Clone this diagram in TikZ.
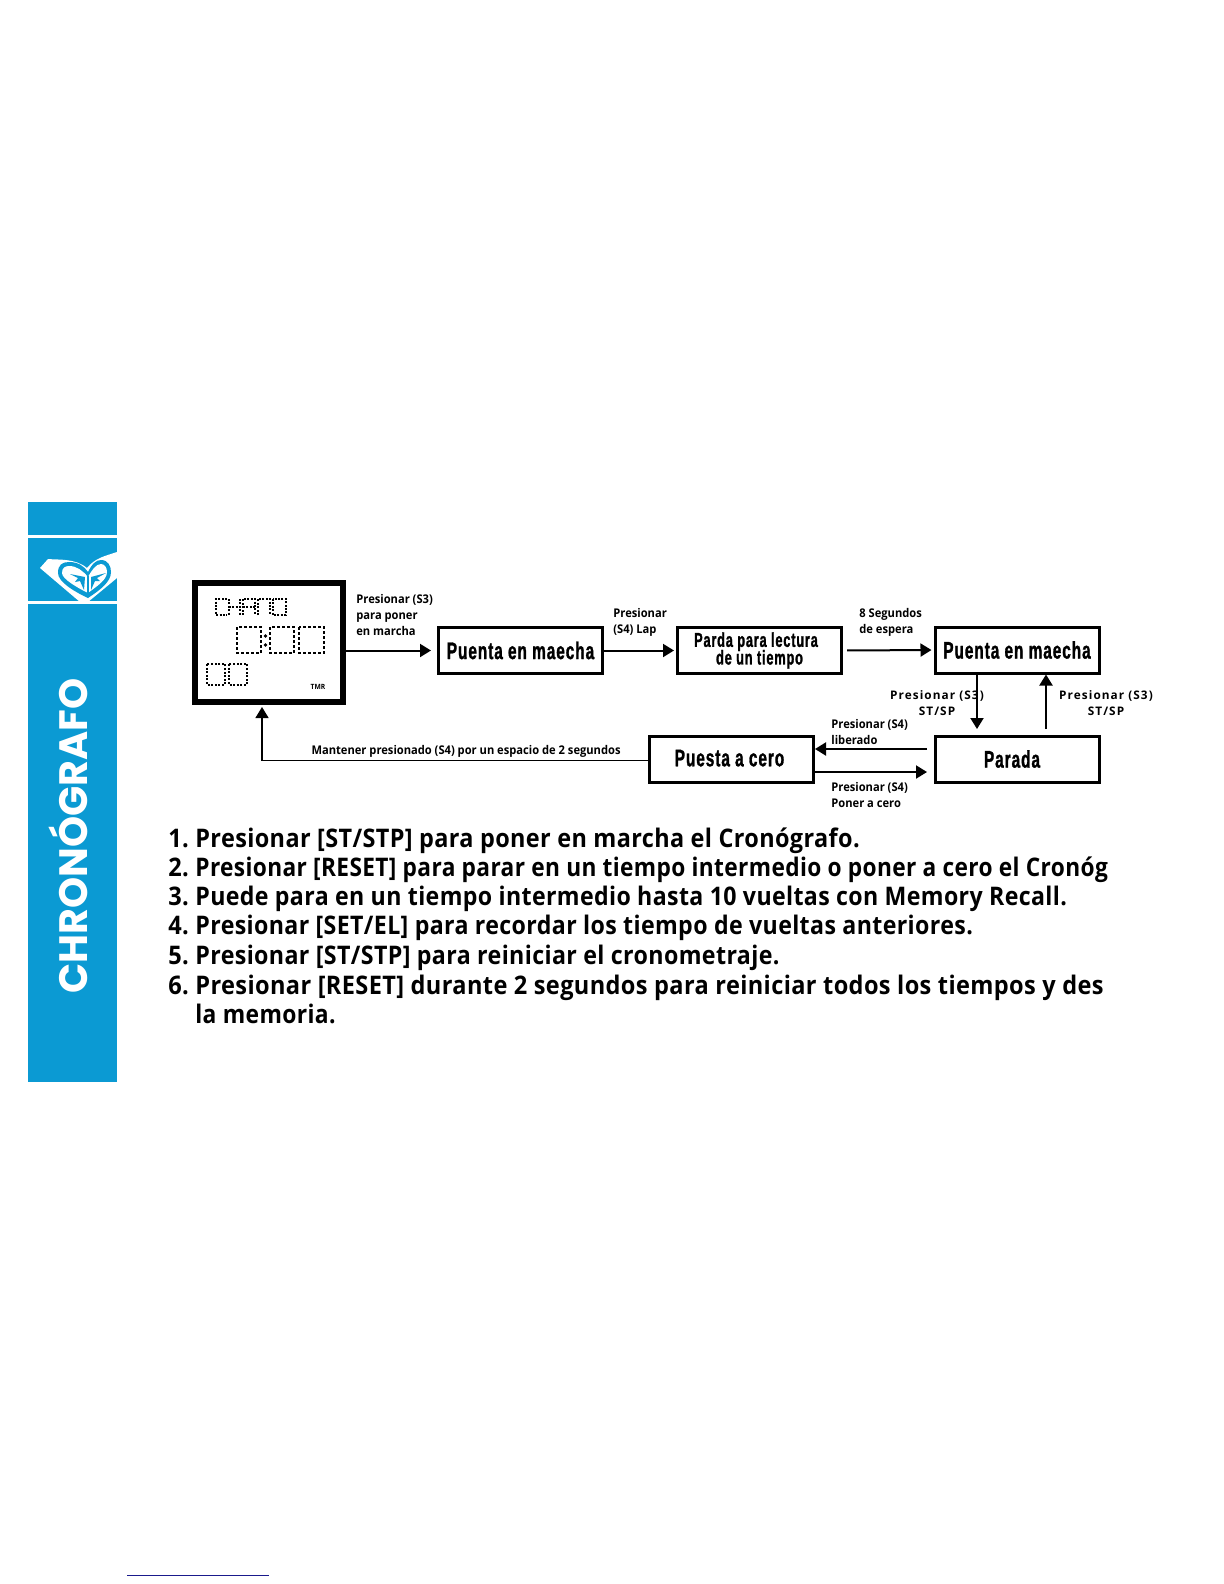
\documentclass[tikz,border=0pt]{standalone}
\usepackage{fontspec}
\usetikzlibrary{arrows.meta}
\newfontfamily\bodyfont[FakeStretch=0.92,LetterSpace=1.5]{Open Sans}
\newfontfamily\smallfont[FakeStretch=0.93]{Open Sans}
\newfontfamily\spreadfont[LetterSpace=9]{Open Sans}
\newfontfamily\titlefont{Poppins}
\newfontfamily\boxfont[FakeStretch=0.64,LetterSpace=4,FakeBold=1.2]{Liberation Sans}
\definecolor{bandblue}{HTML}{0B9AD3}
\definecolor{linkblue}{HTML}{1A1A8C}
\tikzset{
  modebox/.style={draw, line width=1.5bp, minimum width=82bp, minimum height=23bp, inner sep=0pt, align=center},
  flecha/.style={line width=1bp, -{Triangle[length=5.5bp,width=6.5bp]}},
  smalllbl/.style={inner sep=0pt, align=left, anchor=west, font=\smallfont\bfseries\fontsize{6bp}{8bp}\selectfont},
  spreadlbl/.style={inner sep=0pt, align=center, font=\spreadfont\bfseries\fontsize{5.9bp}{8bp}\selectfont},
  steplbl/.style={inner sep=0pt, anchor=base west, font=\bodyfont\bfseries\fontsize{12.8bp}{14bp}\selectfont},
  lcdthin/.style={line width=0.8bp, dash pattern=on 1bp off 0.7bp},
  lcdthick/.style={line width=1.4bp, dash pattern=on 1.5bp off 1bp},
  lcdmid/.style={line width=1bp, dash pattern=on 1bp off 0.8bp}
}
\begin{document}
\begin{tikzpicture}[x=0.5bp,y=-0.5bp]
\useasboundingbox (0,0) rectangle (1224,1584);
\fill[bandblue] (28,502) rectangle (117,1082);
\fill[white] (28,535) rectangle (117,538);
\fill[white] (28,601) rectangle (117,604);
\fill[white] (40,568) -- (48,559) .. controls (58,560) and (75,558) .. (87,568) .. controls (95,558) and (105,556) .. (117,552) -- (117,578) -- (88,602) -- (80,602) -- cycle;
\fill[bandblue] (88,598) .. controls (75,592) and (58,582) .. (58,573) .. controls (58,565) and (62,562) .. (69,562) .. controls (78,562) and (84,566) .. (88,572) .. controls (92,564) and (96,560) .. (101,560) .. controls (108,560) and (111,566) .. (111,572) .. controls (111,582) and (100,590) .. (88,598) -- cycle;
\fill[white] (88,593) .. controls (78,588) and (62,579) .. (62,573) .. controls (62,568) and (65,566) .. (69,566) .. controls (77,566) and (83,571) .. (88,577) .. controls (92,570) and (96,564) .. (101,564) .. controls (105,564) and (107,568) .. (107,572) .. controls (107,580) and (97,586) .. (88,593) -- cycle;
\draw[bandblue, line width=0.6bp] (88,576) -- (88,596);
\fill[bandblue] (70,574) -- (85,577) -- (84,590) -- (80,581) -- (75,582) -- (78,578) -- cycle;
\fill[bandblue] (106,573) -- (91,577) -- (91,590) -- (95,581) -- (100,581) -- (97,578) -- cycle;
\node[rotate=90, inner sep=0pt, font=\titlefont\bfseries\fontsize{19.8bp}{24bp}\selectfont, text=white] (banda) at (68,836) {CHRONÓGRAFO};
\node[draw, line width=3bp, minimum width=74bp, minimum height=59.5bp, inner sep=0pt] (lcd) at (269,642.5) {};
\draw[lcdthin] (227,599) -- (216,599) -- (216,615) -- (227,615);
\draw[lcdthin] (229,599) -- (229,615) (229,607) -- (240,607) (240,599) -- (240,615);
\draw[lcdthin] (243,615) -- (243,599) -- (255,599) -- (255,615) (243,607) -- (255,607);
\draw[lcdthin] (258,615) -- (258,599) -- (270,599) -- (270,615);
\draw[lcdthin] (273,599) rectangle (286,615);
\foreach \x/\w in {237/24, 270/24, 299/25}
  \draw[lcdthick] (\x,627) rectangle (\x+\w,653);
\fill (265.5,636) circle (1.8);
\fill (265.5,645) circle (1.8);
\foreach \x in {207, 229}
  \draw[lcdmid] (\x,664) rectangle (\x+18,685);
\node[inner sep=0pt, font=\smallfont\bfseries\fontsize{3.6bp}{4bp}\selectfont] (tmr) at (318,687) {TMR};
\node[modebox, font=\boxfont\bfseries\fontsize{12bp}{14bp}\selectfont] (puentaA) at (520.5,650.5) {Puenta en maecha};
\node[modebox, font=\boxfont\bfseries\fontsize{10bp}{8.5bp}\selectfont] (parda) at (759.5,650.5) {\kern-3.5bp\raisebox{-1bp}{Parda para lectura}\\[-1.5bp]\raisebox{-1bp}{de un tiempo}};
\node[modebox, font=\boxfont\bfseries\fontsize{12bp}{14bp}\selectfont] (puentaB) at (1017,650) {Puenta en maecha};
\node[modebox, font=\boxfont\bfseries\fontsize{12bp}{14bp}\selectfont] (parada) at (1017,759) {\kern-5bp Parada};
\node[modebox, font=\boxfont\bfseries\fontsize{12bp}{14bp}\selectfont] (puesta) at (731.5,759) {\kern-2bp\raisebox{1bp}{Puesta a cero}};
\coordinate (bajar) at (977,729);
\coordinate (subir) at (1046,729);
\coordinate (liberado) at (927,749);
\coordinate (cero) at (927,772);
\coordinate (vuelta) at (262,707);
\draw[flecha, shorten >=3bp] (lcd.east |- puentaA) -- (puentaA.west);
\draw[flecha, shorten >=1bp] (puentaA.east) -- (parda.west);
\draw[flecha, shorten <=2bp, shorten >=1bp] (parda.east) -- (puentaB.west);
\draw[flecha] (puentaB.south -| bajar) -- (bajar);
\draw[flecha] (subir) -- (puentaB.south -| subir);
\draw[flecha] (liberado) -- (puesta.east |- liberado);
\draw[flecha] (puesta.east |- cero) -- (cero);
\draw[line width=0.7bp, -{Triangle[length=5.5bp,width=6.5bp]}] ([yshift=-0.75bp]puesta.west) -| (vuelta);
\node[smalllbl] (lblA) at (356,615) {Presionar (S3)\\para poner\\en marcha};
\node[smalllbl] (lblB) at (613,622) {Presionar\\(S4) Lap};
\node[smalllbl] (lblC) at (859,622) {8 Segundos\\de espera};
\node[spreadlbl] (lblD) at (937,703) {Presionar (S3)\\ST/SP};
\node[spreadlbl] (lblE) at (1106,703) {Presionar (S3)\\ST/SP};
\node[smalllbl] (lblF) at (831,731.5) {Presionar (S4)\\liberado};
\node[smalllbl] (lblG) at (831,795) {Presionar (S4)\\Poner a cero};
\node[smalllbl, anchor=east] (lblH) at (621,751) {Mantener presionado (S4) por un espacio de 2 segundos};
\foreach \n/\y/\sx/\txt in {1/847/0.995/{Presionar [ST/STP] para poner en marcha el Cronógrafo.},
    2/876/0.963/{Presionar [RESET] para parar en un tiempo intermedio o poner a cero el Cronóg},
    3/905/0.982/{Puede para en un tiempo intermedio hasta 10 vueltas con Memory Recall.},
    4/934/0.983/{Presionar [SET/EL] para recordar los tiempo de vueltas anteriores.},
    5/964/0.985/{Presionar [ST/STP] para reiniciar el cronometraje.},
    6/994/1/{Presionar [RESET] durante 2 segundos para reiniciar todos los tiempos y des}}{
  \node[steplbl] (num\n) at (168,\y) {\n.};
  \node[steplbl] (paso\n) at (195,\y) {\scalebox{\sx}[1]{\txt}};
}
\node[steplbl] (pasofin) at (195,1023) {\scalebox{0.97}[1]{la memoria.}};
\draw[linkblue, line width=0.5bp] (127,1575) -- (269,1575);
\end{tikzpicture}
\end{document}
